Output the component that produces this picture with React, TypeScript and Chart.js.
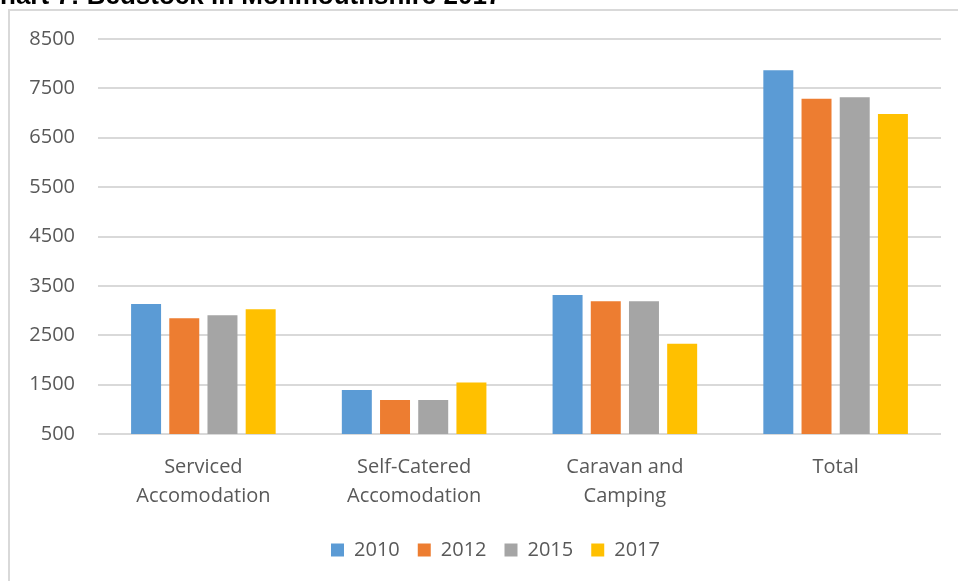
import React, { useEffect, useRef } from "react";
import { Chart, registerables } from "chart.js";

Chart.register(...registerables);

const titleText = "Chart 7: Bedstock in Monmouthshire 2017";
const categories: string[][] = [
  ["Serviced", "Accomodation"],
  ["Self-Catered", "Accomodation"],
  ["Caravan and", "Camping"],
  ["Total"],
];
const seriesNames = ["2010", "2012", "2015", "2017"];
const values2010 = [3135, 1390, 3315, 7865];
const values2012 = [2845, 1190, 3190, 7290];
const values2015 = [2905, 1190, 3190, 7320];
const values2017 = [3025, 1545, 2330, 6980];
const seriesColors = ["#5B9BD5", "#ED7D31", "#A5A5A5", "#FFC000"];
const yMin = 500;
const yMax = 8500;
const yStep = 1000;

const FONT = '"Open Sans", "Liberation Sans", sans-serif';
const TEXT_COLOR = "#595959";
const GRID_COLOR = "#D9D9D9";

const framePlugin = {
  id: "frameAndTitle",
  afterLayout(chart: any) {
    // centre the legend on the chart frame rather than the whole canvas
    if (chart.legend) {
      chart.legend.left = 50;
    }
  },
  beforeDraw(chart: any) {
    const ctx = chart.ctx as CanvasRenderingContext2D;
    ctx.save();
    ctx.fillStyle = "#ffffff";
    ctx.fillRect(0, 0, chart.width, chart.height);
    ctx.strokeStyle = GRID_COLOR;
    ctx.lineWidth = 2;
    ctx.beginPath();
    ctx.moveTo(9, chart.height);
    ctx.lineTo(9, 10);
    ctx.lineTo(chart.width, 10);
    ctx.stroke();
    ctx.font = 'bold 26px "Liberation Sans", Arial, sans-serif';
    ctx.fillStyle = "#000000";
    ctx.textBaseline = "alphabetic";
    ctx.textAlign = "left";
    const cw = ctx.measureText("C").width;
    ctx.fillText(titleText, -cw, 4);
    ctx.restore();
  },
};

export default function App() {
  const canvasRef = useRef<HTMLCanvasElement | null>(null);

  useEffect(() => {
    if (!canvasRef.current) return;
    const allValues = [values2010, values2012, values2015, values2017];
    const chart = new Chart(canvasRef.current, {
      type: "bar",
      data: {
        labels: categories,
        datasets: seriesNames.map((name, i) => ({
          label: name,
          data: allValues[i],
          backgroundColor: seriesColors[i],
          borderWidth: 0,
          categoryPercentage: 0.725,
          barPercentage: 0.785,
        })),
      },
      options: {
        animation: false,
        responsive: false,
        maintainAspectRatio: false,
        layout: { padding: { left: 0, right: 17, top: 39, bottom: 11 } },
        plugins: {
          legend: {
            position: "bottom",
            labels: {
              boxWidth: 13,
              boxHeight: 13,
              padding: 18,
              color: TEXT_COLOR,
              font: { family: FONT, size: 20 },
            },
          },
          tooltip: { enabled: false },
          title: { display: false },
        },
        scales: {
          x: {
            grid: { display: false, drawTicks: false },
            border: { display: false },
            ticks: {
              color: TEXT_COLOR,
              font: { family: FONT, size: 20, lineHeight: 1.45 },
              padding: 19,
              maxRotation: 0,
              autoSkip: false,
            },
            afterFit: (s: any) => {
              s.height = 88;
            },
          },
          y: {
            min: yMin,
            max: yMax,
            grid: { color: GRID_COLOR, lineWidth: 2, drawTicks: false },
            border: { display: false },
            ticks: {
              stepSize: yStep,
              color: TEXT_COLOR,
              font: { family: FONT, size: 20 },
              padding: 23,
              callback: (v: any) => String(v),
            },
            afterFit: (s: any) => {
              s.width = 98;
            },
          },
        },
      },
      plugins: [framePlugin],
    });
    return () => chart.destroy();
  }, []);

  return (
    <div style={{ position: "absolute", left: 0, top: 0, width: 958, height: 581 }}>
      <canvas ref={canvasRef} width={958} height={581} />
    </div>
  );
}
